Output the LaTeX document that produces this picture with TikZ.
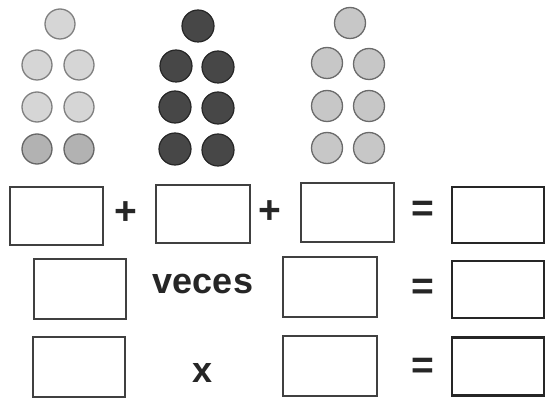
\documentclass[tikz,border=0pt]{standalone}
\usepackage{fontspec}
\setmainfont{Liberation Sans}
\begin{document}
\begin{tikzpicture}[x=1pt,y=-1pt,
  lightdot/.style={circle,minimum size=30pt,inner sep=0pt,fill=black!16,draw=black!50,line width=1.3pt},
  lightdotb/.style={lightdot,fill=black!30,draw=black!60},
  darkdot/.style={circle,minimum size=32pt,inner sep=0pt,fill=black!72,draw=black!85,line width=1.2pt},
  middot/.style={circle,minimum size=31pt,inner sep=0pt,fill=black!22,draw=black!58,line width=1.3pt},
  thinbox/.style={draw=black!75,line width=1.1pt,inner sep=0pt},
  thickbox/.style={draw=black!85,line width=2.4pt,inner sep=0pt},
  sym/.style={inner sep=0pt,font=\fontsize{39}{39}\selectfont\bfseries,text=black!85},
  word/.style={inner sep=0pt,anchor=base,font=\fontsize{36}{36}\selectfont\bfseries,text=black!85}]
\useasboundingbox (0,0) rectangle (552,398);
% left group
\node[lightdot] (a1) at (60,24) {};
\node[lightdot] (a2) at (37,65) {};
\node[lightdot] (a3) at (79,65) {};
\node[lightdot] (a4) at (37,107) {};
\node[lightdot] (a5) at (79,107) {};
\node[lightdotb] (a6) at (37,149) {};
\node[lightdotb] (a7) at (79,149) {};
% middle group
\node[darkdot] (b1) at (198,26) {};
\node[darkdot] (b2) at (176,66) {};
\node[darkdot] (b3) at (218,67) {};
\node[darkdot] (b4) at (175,107) {};
\node[darkdot] (b5) at (218,108) {};
\node[darkdot] (b6) at (175,149) {};
\node[darkdot] (b7) at (218,150) {};
% right group
\node[middot] (c1) at (350,23) {};
\node[middot] (c2) at (327,63) {};
\node[middot] (c3) at (369,64) {};
\node[middot] (c4) at (327,106) {};
\node[middot] (c5) at (369,106) {};
\node[middot] (c6) at (327,148) {};
\node[middot] (c7) at (369,148) {};
% row 1
\node[thinbox,minimum width=93pt,minimum height=58pt] (r1a) at (56.5,216) {};
\node[thinbox,minimum width=94pt,minimum height=58pt] (r1b) at (203,214) {};
\node[thinbox,minimum width=93pt,minimum height=59pt] (r1c) at (347.5,212.5) {};
\node[thickbox,minimum width=92pt,minimum height=56pt] (r1d) at (498,215) {};
\node[sym] (p1) at (126,213) {+};
\node[sym] (p2) at (270,212) {+};
\node[sym] (e1) at (423,211) {=};
% row 2
\node[thinbox,minimum width=92pt,minimum height=60pt] (r2a) at (80,289) {};
\node[word] (veces) at (203,294) {veces};
\node[thinbox,minimum width=94pt,minimum height=60pt] (r2b) at (330,287) {};
\node[sym] (e2) at (423,289) {=};
\node[thickbox,minimum width=92pt,minimum height=57pt] (r2c) at (498,289.5) {};
% row 3
\node[thinbox,minimum width=92pt,minimum height=60pt] (r3a) at (79,367) {};
\node[word] (times) at (203,382) {x};
\node[thinbox,minimum width=94pt,minimum height=60pt] (r3b) at (330,366) {};
\node[sym] (e3) at (423,368) {=};
\node[thickbox,minimum width=92pt,minimum height=58pt] (r3c) at (498,366.5) {};
\end{tikzpicture}
\end{document}
